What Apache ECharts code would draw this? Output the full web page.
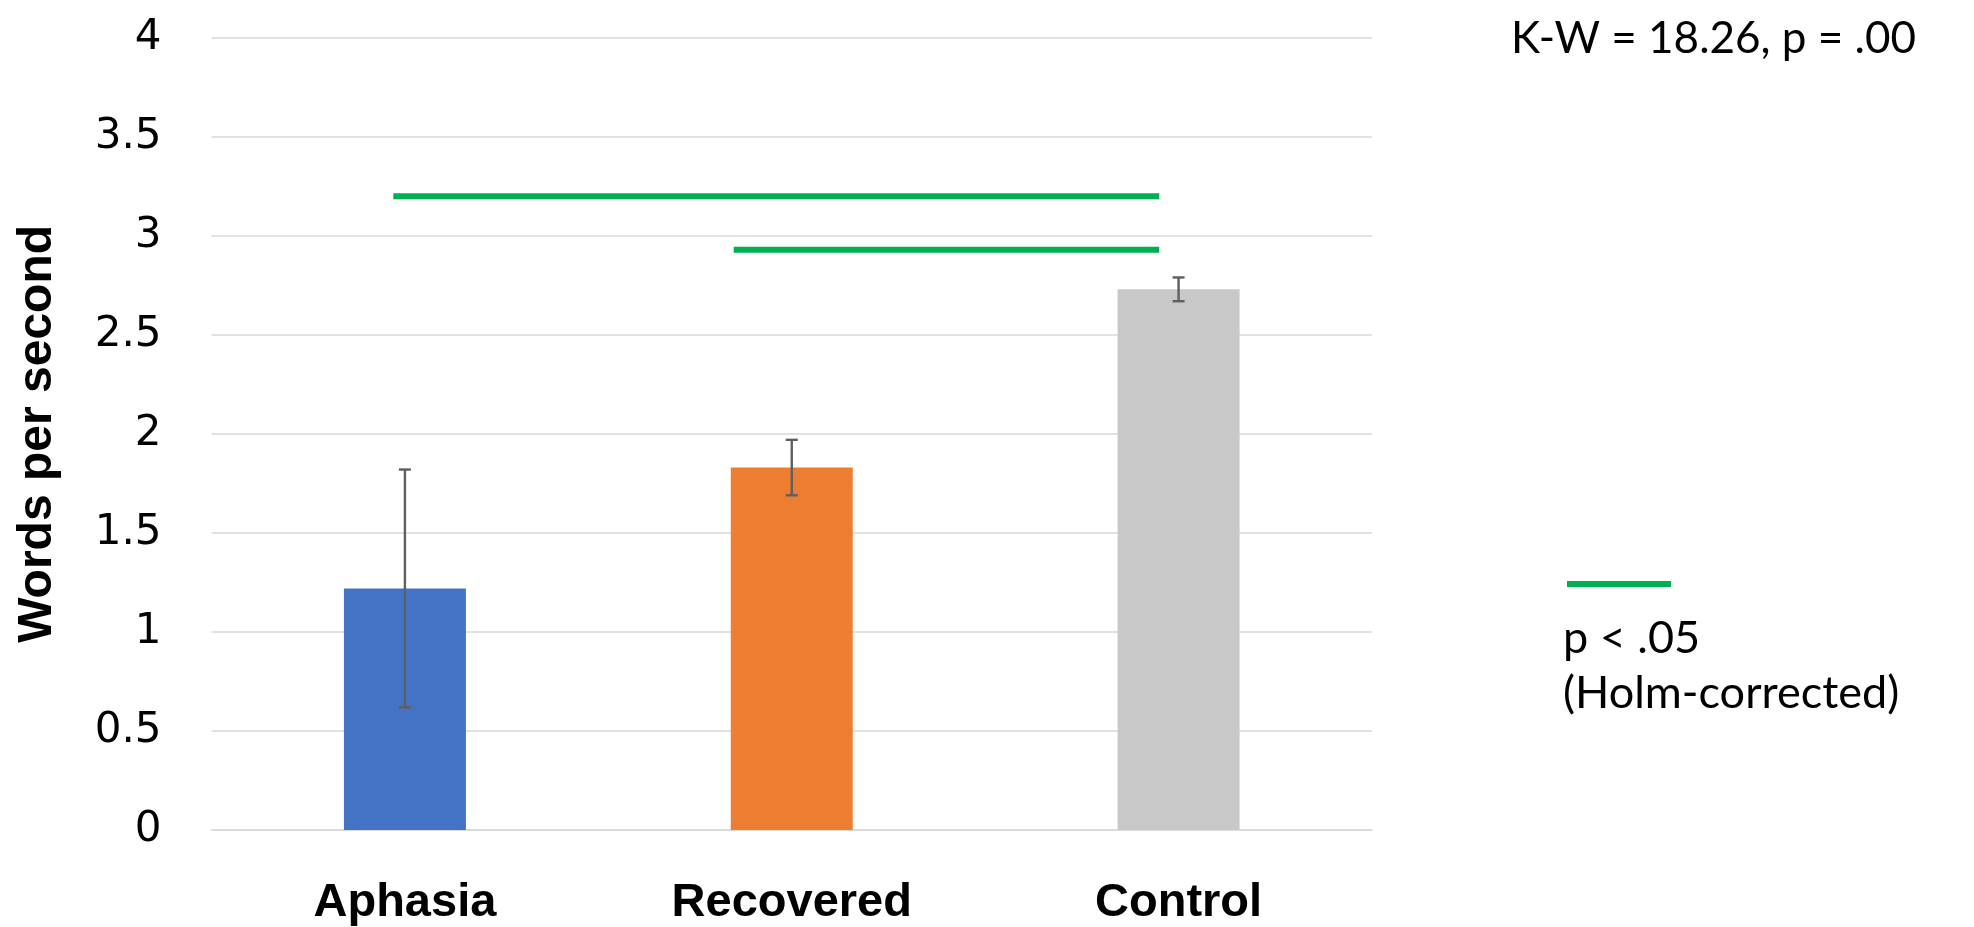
<!DOCTYPE html>
<html>
<head>
<meta charset="utf-8">
<title>Words per second by group</title>
<script src="https://cdn.jsdelivr.net/npm/echarts@6/dist/echarts.min.js"></script>
<style>
  html, body { margin: 0; padding: 0; background: #ffffff; }
  #chart { width: 1974px; height: 927px; }
</style>
</head>
<body>
<div id="chart"></div>
<script>
// Group means and error-bar half-widths
const categories = ['Aphasia', 'Recovered', 'Control'];
const means = [1.22, 1.83, 2.73];
const errors = [0.60, 0.14, 0.06];
const barColors = ['#4472c4', '#ed7d31', '#c8c8c8'];

// Y axis range and step
const yMin = 0;
const yMax = 4;
const yStep = 0.5;

// Significance brackets: [x position on group index scale, y value]
const sigLineOuter = [[-0.03, 3.2], [1.95, 3.2]];
const sigLineInner = [[0.85, 2.93], [1.95, 2.93]];

// Annotation text
const testText = 'K-W = 18.26, p = .00';
const keyText1 = 'p < .05';
const keyText2 = '(Holm-corrected)';
const yAxisTitle = 'Words per second';

const green = '#00b050';
const gridColor = '#d9d9d9';

const chart = echarts.init(document.getElementById('chart'), null, { renderer: 'canvas' });

const option = {
  backgroundColor: '#ffffff',
  animation: false,
  grid: { left: 211.5, right: 602, top: 37.8, bottom: 93.6, containLabel: false },
  xAxis: [
    {
      type: 'category',
      data: categories,
      axisTick: { show: false },
      axisLine: { show: true, lineStyle: { color: gridColor, width: 1.6 } },
      axisLabel: {
        margin: 50,
        color: '#000000',
        fontFamily: '"Liberation Sans Narrow", "Liberation Sans", sans-serif',
        fontWeight: 'bold',
        fontSize: 47
      }
    },
    {
      type: 'value',
      min: -0.5,
      max: 2.5,
      show: false
    }
  ],
  yAxis: {
    type: 'value',
    min: yMin,
    max: yMax,
    interval: yStep,
    name: yAxisTitle,
    nameLocation: 'middle',
    nameGap: 150,
    nameTextStyle: {
      color: '#000000',
      fontFamily: '"Liberation Sans Narrow", "Liberation Sans", sans-serif',
      fontWeight: 'bold',
      fontSize: 48
    },
    axisLine: { show: false },
    axisTick: { show: false },
    splitLine: { show: true, lineStyle: { color: gridColor, width: 1.6 } },
    axisLabel: {
      margin: 50,
      color: '#000000',
      fontFamily: '"DejaVu Sans", sans-serif',
      fontSize: 42
    }
  },
  series: [
    {
      type: 'bar',
      xAxisIndex: 0,
      barWidth: 122,
      data: means.map((v, i) => ({ value: v, itemStyle: { color: barColors[i] } })),
      z: 2
    },
    {
      type: 'custom',
      xAxisIndex: 0,
      z: 5,
      data: means.map((m, i) => [i, m - errors[i], m + errors[i]]),
      renderItem: function (params, api) {
        const lo = api.coord([api.value(0), api.value(1)]);
        const hi = api.coord([api.value(0), api.value(2)]);
        const cap = 6;
        const st = { stroke: '#5f5f5f', lineWidth: 2.4 };
        return {
          type: 'group',
          children: [
            { type: 'line', shape: { x1: hi[0], y1: hi[1], x2: lo[0], y2: lo[1] }, style: st },
            { type: 'line', shape: { x1: hi[0] - cap, y1: hi[1], x2: hi[0] + cap, y2: hi[1] }, style: st },
            { type: 'line', shape: { x1: lo[0] - cap, y1: lo[1], x2: lo[0] + cap, y2: lo[1] }, style: st }
          ]
        };
      }
    },
    {
      type: 'line',
      xAxisIndex: 1,
      data: sigLineOuter,
      symbol: 'none',
      lineStyle: { color: green, width: 6, cap: 'butt' },
      z: 6
    },
    {
      type: 'line',
      xAxisIndex: 1,
      data: sigLineInner,
      symbol: 'none',
      lineStyle: { color: green, width: 6, cap: 'butt' },
      z: 6
    }
  ],
  graphic: [
    {
      type: 'text',
      x: 1511,
      y: 39,
      style: {
        text: testText,
        fill: '#000000',
        font: '44px Lato, "Open Sans", sans-serif',
        textAlign: 'left',
        textVerticalAlign: 'middle'
      }
    },
    {
      type: 'line',
      shape: { x1: 1567, y1: 584, x2: 1671, y2: 584 },
      style: { stroke: green, lineWidth: 6 }
    },
    {
      type: 'text',
      x: 1563,
      y: 638,
      style: {
        text: keyText1,
        fill: '#000000',
        font: '45px Lato, "Open Sans", sans-serif',
        textAlign: 'left',
        textVerticalAlign: 'middle'
      }
    },
    {
      type: 'text',
      x: 1563,
      y: 693,
      style: {
        text: keyText2,
        fill: '#000000',
        font: '45px Lato, "Open Sans", sans-serif',
        textAlign: 'left',
        textVerticalAlign: 'middle'
      }
    }
  ]
};

chart.setOption(option);
</script>
</body>
</html>
